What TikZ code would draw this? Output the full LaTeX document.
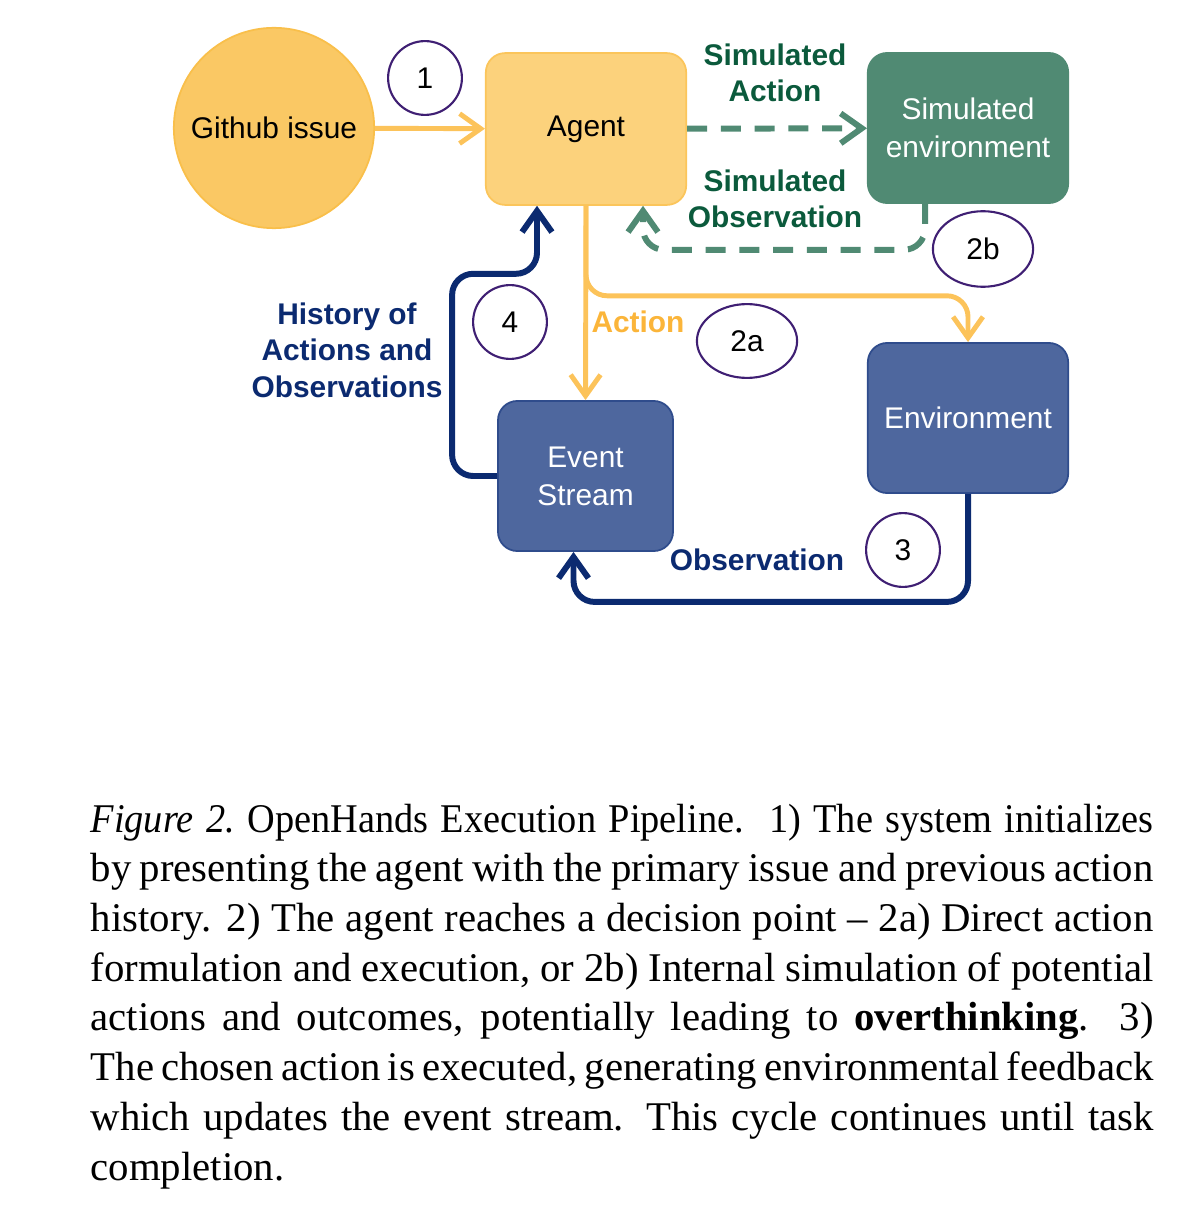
\documentclass[tikz,border=0pt]{standalone}
\usepackage{fontspec}
\setmainfont{Liberation Serif}
\setsansfont{Liberation Sans}
\usetikzlibrary{arrows.meta, calc, shapes.geometric}

\definecolor{issuefill}{HTML}{FAC864}
\definecolor{issueline}{HTML}{F9BF4A}
\definecolor{agentfill}{HTML}{FCD27C}
\definecolor{agentline}{HTML}{FBC55B}
\definecolor{actline}{HTML}{FCC35A}
\definecolor{acttext}{HTML}{FBB53A}
\definecolor{simgreen}{HTML}{508A73}
\definecolor{simtext}{HTML}{0B5A3C}
\definecolor{envfill}{HTML}{4E679E}
\definecolor{envline}{HTML}{2F4C8C}
\definecolor{navy}{HTML}{0B2A70}
\definecolor{numline}{HTML}{3F1F73}

\begin{document}
\begin{tikzpicture}[x=0.2845pt, y=-0.2845pt,
  sans/.style={font=\sffamily\fontsize{8.5}{10.8}\selectfont},
  box/.style={sans, draw, rounded corners=5.5pt, line width=0.5pt, align=center,
    inner sep=0pt, minimum width=57pt, minimum height=42.7pt},
  stepnum/.style={sans, draw=numline, line width=0.6pt, inner sep=0pt},
  lbl/.style={font=\sffamily\bfseries\fontsize{8.5}{10.4}\selectfont, align=center},
  yarrow/.style={draw=actline, line width=1.4pt, -{Straight Barb[length=6pt, width=8.5pt]}},
  garrow/.style={draw=simgreen, line width=1.7pt, dash pattern=on 5.7pt off 3.9pt,
    -{Straight Barb[length=6pt, width=8.5pt]}},
  barrow/.style={draw=navy, line width=1.7pt, -{Straight Barb[length=6pt, width=8.5pt]}}]
  \useasboundingbox (0,0) rectangle (1188,1208);

  % Nodes
  \node[sans, circle, draw=issueline, fill=issuefill, line width=0.5pt,
    minimum size=57pt, inner sep=0pt] (issue) at (274,128) {Github issue};
  \node[box, draw=agentline, fill=agentfill, minimum height=43.2pt] (agent) at (586,129) {Agent};
  \node[box, draw=simgreen, fill=simgreen, text=white] (simenv) at (968,128) {Simulated\\environment};
  \node[box, draw=envline, fill=envfill, text=white, minimum width=49.8pt] (event) at (585.5,476) {Event\\Stream};
  \node[box, draw=envline, fill=envfill, text=white] (env) at (968,418) {Environment};

  % Step numbers
  \node[stepnum, circle, minimum size=21pt] (n1) at (425,78) {1};
  \node[stepnum, ellipse, minimum width=28.5pt, minimum height=21pt] (n2a) at (747,341) {2a};
  \node[stepnum, ellipse, minimum width=28.5pt, minimum height=21.5pt] (n2b) at (983,249) {2b};
  \node[stepnum, circle, minimum size=21pt] (n3) at (903,550) {3};
  \node[stepnum, circle, minimum size=21pt] (n4) at (510,322) {4};

  % Labels
  \node[lbl, text=simtext] (simact) at (775,73) {Simulated\\Action};
  \node[lbl, text=simtext] (simobs) at (775,199) {Simulated\\Observation};
  \node[lbl, text=acttext] (actlbl) at (638,322) {Action};
  \node[lbl, text=navy] (histlbl) at (347,350) {History of\\Actions and\\Observations};
  \node[lbl, text=navy] (obslbl) at (757,560) {Observation};

  % Connectors
  \draw[yarrow] (issue) -- (agent);
  \draw[garrow] (agent) -- (simenv);
  \draw[garrow, rounded corners=6pt] ($(simenv.south)+(-43,0)$) |- ($(agent.south)+(57,44)$)
    -- ($(agent.south)+(57,0)$);
  \draw[yarrow] (agent.south) -- (event.north);
  \draw[yarrow, rounded corners=6pt] (agent.south) -- ++(0,90) -| (env.north);
  \draw[barrow, rounded corners=6pt] (event.west) -- ++(-45,0) |- ($(agent.south)+(-49,68)$)
    -- ($(agent.south)+(-49,0)$);
  \draw[barrow, rounded corners=6pt] (env.south) |- ($(event.south)+(-12,50)$)
    -- ($(event.south)+(-12,0)$);

  % Caption
  \node[anchor=north west, inner sep=0pt, text width=302.4pt, align=justify,
    font=\fontsize{11.6}{14.15}\selectfont] (caption) at (90,803)
    {{\frenchspacing\addfontfeature{FakeStretch=0.94}\textit{Figure 2.} OpenHands Execution Pipeline.\ \ 1) The system initializes}\linebreak
    by presenting the agent with the primary issue and previous action\linebreak
    history. 2) The agent reaches a decision point -- 2a) Direct action\linebreak
    formulation and execution, or 2b) Internal simulation of potential\linebreak
    actions and outcomes, potentially leading to \textbf{overthinking}. 3)\linebreak
    The chosen action is executed, generating environmental feedback\linebreak
    which updates the event stream. This cycle continues until task\linebreak
    completion.};
\end{tikzpicture}
\end{document}
